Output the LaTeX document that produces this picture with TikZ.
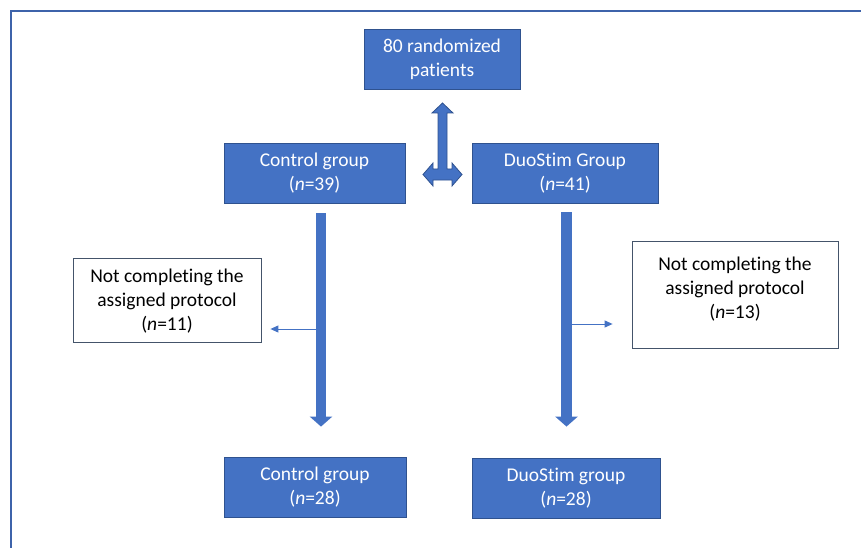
\documentclass[tikz,border=0pt]{standalone}
\usepackage{fontspec}
\setmainfont[Ligatures=NoCommon]{Carlito}
\usetikzlibrary{arrows.meta,calc}
\definecolor{boxblue}{HTML}{4472C4}
\definecolor{boxedge}{HTML}{2F528F}
\definecolor{frameblue}{HTML}{3E63AA}
\definecolor{greyedge}{HTML}{44546A}
\tikzset{
  group/.style={draw=boxedge,fill=boxblue,text=white,inner sep=0pt,align=center,line width=0.8pt},
  dropbox/.style={draw=greyedge,fill=white,inner sep=0pt,line width=0.8pt},
  droptext/.style={align=center,inner sep=0pt},
  bigarrow/.style={boxblue,line width=10.5pt,-{Triangle[width=22pt,length=10pt]}},
  thinarrow/.style={boxblue,line width=1pt,-{Triangle[width=7pt,length=8pt]}},
  forkarrow/.style={draw=boxedge,fill=boxblue,line width=0.8pt,line join=miter}
}
\begin{document}
\begin{tikzpicture}[x=1pt,y=-1pt,font=\fontsize{19.5}{24}\selectfont]
\useasboundingbox (0,0) rectangle (861,548);
\draw[frameblue,line width=2.5pt] (11,11) rectangle (890,580);
% boxes
\node[group,minimum width=156,minimum height=60] (top) at (442,59) {80 randomized\\patients};
\node[group,minimum width=181,minimum height=60] (ctrl) at (314.5,173) {Control group\\(\textit{n}=39)};
\node[group,minimum width=186,minimum height=60] (duo) at (565,173) {DuoStim Group\\(\textit{n}=41)};
\node[dropbox,minimum width=188,minimum height=84] (dropL) at (167,300) {};
\node[droptext] (dropLtxt) at ([yshift=-1.5pt]dropL.center) {Not completing the\\assigned protocol\\(\textit{n}=11)};
\node[dropbox,minimum width=206,minimum height=107] (dropR) at (735,294.5) {};
\node[droptext] (dropRtxt) at ([yshift=5pt]dropR.center) {Not completing the\\assigned protocol\\(\textit{n}=13)};
\node[group,minimum width=182,minimum height=60] (ctrlEnd) at (315,487) {Control group\\(\textit{n}=28)};
\node[group,minimum width=188,minimum height=60] (duoEnd) at (566,488) {DuoStim group\\(\textit{n}=28)};
% randomization fork
\coordinate (fork) at ($(top.south |- ctrl.center)+(0.5,1.5)$);
\filldraw[forkarrow] (fork) ++(0,-71.5) -- ++(10.5,10) -- ++(-6,0) -- ++(0,56)
  -- ++(5,0) -- ++(0,-6) -- ++(10,11.5) -- ++(-10,11.5) -- ++(0,-6) -- ++(-19,0)
  -- ++(0,6) -- ++(-10,-11.5) -- ++(10,-11.5) -- ++(0,6) -- ++(5,0) -- ++(0,-56)
  -- ++(-6,0) -- cycle;
% follow-up
\draw[bigarrow] ($(ctrl.south)+(6.5,10)$) -- ($(ctrlEnd.north)+(6,-30)$);
\draw[bigarrow] ($(duo.south)+(1.5,9)$) -- ($(duoEnd.north)+(0.5,-31)$);
\coordinate (offL) at (316,329);
\coordinate (offR) at (572,324);
\draw[thinarrow] (offL) -- ($(offL -| dropL.east)+(9,0)$);
\draw[thinarrow] (offR) -- ($(offR -| dropR.west)+(-19,0)$);
\end{tikzpicture}
\end{document}
